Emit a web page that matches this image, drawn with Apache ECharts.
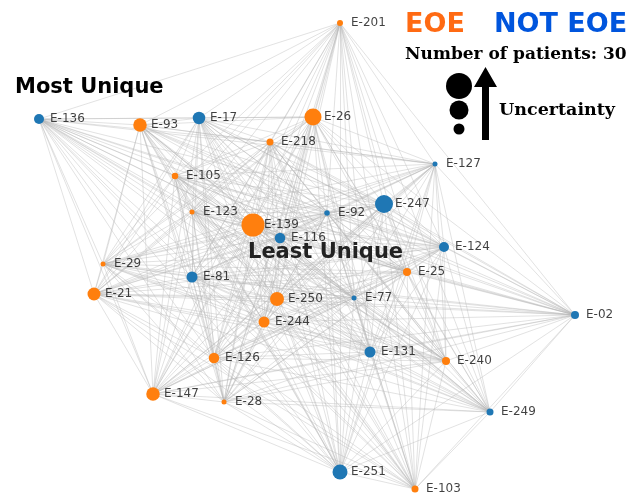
<!DOCTYPE html>
<html>
<head>
<meta charset="utf-8">
<script src="https://cdn.jsdelivr.net/npm/echarts@6/dist/echarts.min.js"></script>
<style>html,body{margin:0;padding:0;background:#fff}#c{width:642px;height:495px}</style>
</head>
<body>
<div id="c"></div>
<script>
const names = ['E-201','E-136','E-93','E-17','E-26','E-218','E-105','E-123','E-139','E-116','E-92','E-247','E-127','E-124','E-25','E-29','E-81','E-21','E-250','E-77','E-244','E-02','E-126','E-131','E-240','E-147','E-28','E-249','E-251','E-103'];
const xs = [340,39,140,199,313,270,175,192,253,280,327,384,435,444,407,103,192,94,277,354,264,575,214,370,446,153,224,490,340,415];
const ys = [23,119,125,118,117,142,176,212,225,238,213,204,164,247,272,264,277,294,299,298,322,315,358,352,361,394,402,412,472,489];
const uncertainty = [6,10,13.5,12.5,17,7,6.5,5,23,10.5,5.5,18,5,10,8,5,11,13,14,5,11,8,10.5,11,8,13.5,5,7,15,7];
const isEOE = [1,0,1,0,1,1,1,1,1,0,0,0,0,0,1,1,0,1,1,0,1,0,1,0,1,1,1,0,0,1];
const patientCount = 30;

const ORANGE = '#ff7f0e', BLUE = '#1f77b4';
const nodes = names.map((n, i) => ({
  name: n,
  value: [xs[i], ys[i]],
  symbolSize: uncertainty[i],
  itemStyle: { color: isEOE[i] ? ORANGE : BLUE }
}));
const links = [];
for (let i = 0; i < names.length; i++)
  for (let j = i + 1; j < names.length; j++)
    links.push({ source: i, target: j });

const chart = echarts.init(document.getElementById('c'));
chart.setOption({
  animation: false,
  grid: { left: 0, right: 0, top: 0, bottom: 0 },
  xAxis: { type: 'value', min: 0, max: 642, show: false },
  yAxis: { type: 'value', min: 0, max: 495, inverse: true, show: false },
  series: [
    {
      type: 'graph',
      coordinateSystem: 'cartesian2d',
      data: nodes,
      links: links,
      lineStyle: { color: '#b5b5b5', width: 0.65, opacity: 0.6, curveness: 0 },
      label: { show: false },
      emphasis: { disabled: true }
    },
    {
      type: 'scatter',
      data: names.map((n, i) => ({ name: n, value: [xs[i], ys[i]] })),
      symbolSize: 2,
      itemStyle: { color: 'rgba(0,0,0,0)' },
      label: {
        show: true, position: 'right', distance: 10,
        formatter: p => p.name,
        fontFamily: 'DejaVu Sans', fontSize: 12, color: '#111'
      },
      labelLayout: { hideOverlap: false },
      z: 5,
      silent: true
    }
  ],
  graphic: [
    { type: 'text', x: 15, y: 88, z: 10, style: { text: 'Most Unique', font: 'bold 21px "DejaVu Sans"', fill: '#000', verticalAlign: 'middle' } },
    { type: 'text', x: 248, y: 253, z: 10, style: { text: 'Least Unique', font: 'bold 21px "DejaVu Sans"', fill: '#222', verticalAlign: 'middle' } },
    { type: 'text', x: 405, y: 25, z: 10, style: { text: 'EOE', font: 'bold 27px "DejaVu Sans"', fill: '#ff6a13', verticalAlign: 'middle' } },
    { type: 'text', x: 494, y: 25, z: 10, style: { text: 'NOT EOE', font: 'bold 27px "DejaVu Sans"', fill: '#0055dd', verticalAlign: 'middle' } },
    { type: 'text', x: 405, y: 55, z: 10, style: { text: 'Number of patients: ' + patientCount, font: 'bold 17px "DejaVu Serif"', fill: '#000', verticalAlign: 'middle' } },
    { type: 'text', x: 499, y: 110, z: 10, style: { text: 'Uncertainty', font: 'bold 17.5px "DejaVu Serif"', fill: '#000', verticalAlign: 'middle' } },
    { type: 'circle', z: 10, shape: { cx: 459, cy: 86, r: 13 }, style: { fill: '#000' } },
    { type: 'circle', z: 10, shape: { cx: 459, cy: 110, r: 9.5 }, style: { fill: '#000' } },
    { type: 'circle', z: 10, shape: { cx: 459, cy: 129, r: 5.5 }, style: { fill: '#000' } },
    { type: 'polygon', z: 10, shape: { points: [[482,140],[489,140],[489,87],[497,87],[485.5,67],[474,87],[482,87]] }, style: { fill: '#000' } }
  ]
});
</script>
</body>
</html>
